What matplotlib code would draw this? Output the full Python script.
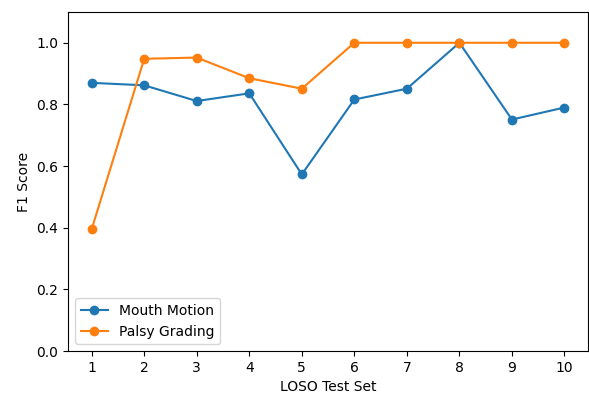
import matplotlib
matplotlib.use("Agg")
import matplotlib.pyplot as plt

# ── Data ──────────────────────────────────────────────────────────────────────
test_sets = [1, 2, 3, 4, 5, 6, 7, 8, 9, 10]
mouth_motion = [0.870, 0.862, 0.811, 0.836, 0.573, 0.816, 0.851, 1.0, 0.751, 0.790]
palsy_grading = [0.395, 0.948, 0.952, 0.885, 0.851, 1.0, 1.0, 1.0, 1.0, 1.0]

fig = plt.figure(figsize=(5.89, 3.98), dpi=100)
# axes right edge sits at the image edge (reference is cropped there)
ax = fig.add_axes([0.1155, 0.118, 0.883, 0.852])

ax.plot(test_sets, mouth_motion, marker="o", color="#1f77b4", label="Mouth Motion")
ax.plot(test_sets, palsy_grading, marker="o", color="#ff7f0e", label="Palsy Grading")

ax.set_ylim(0, 1.1)
ax.set_xticks(test_sets)
ax.set_xlabel("LOSO Test Set")
ax.set_ylabel("F1 Score")
ax.legend(loc="lower left")

fig.savefig("out.png", dpi=100)
